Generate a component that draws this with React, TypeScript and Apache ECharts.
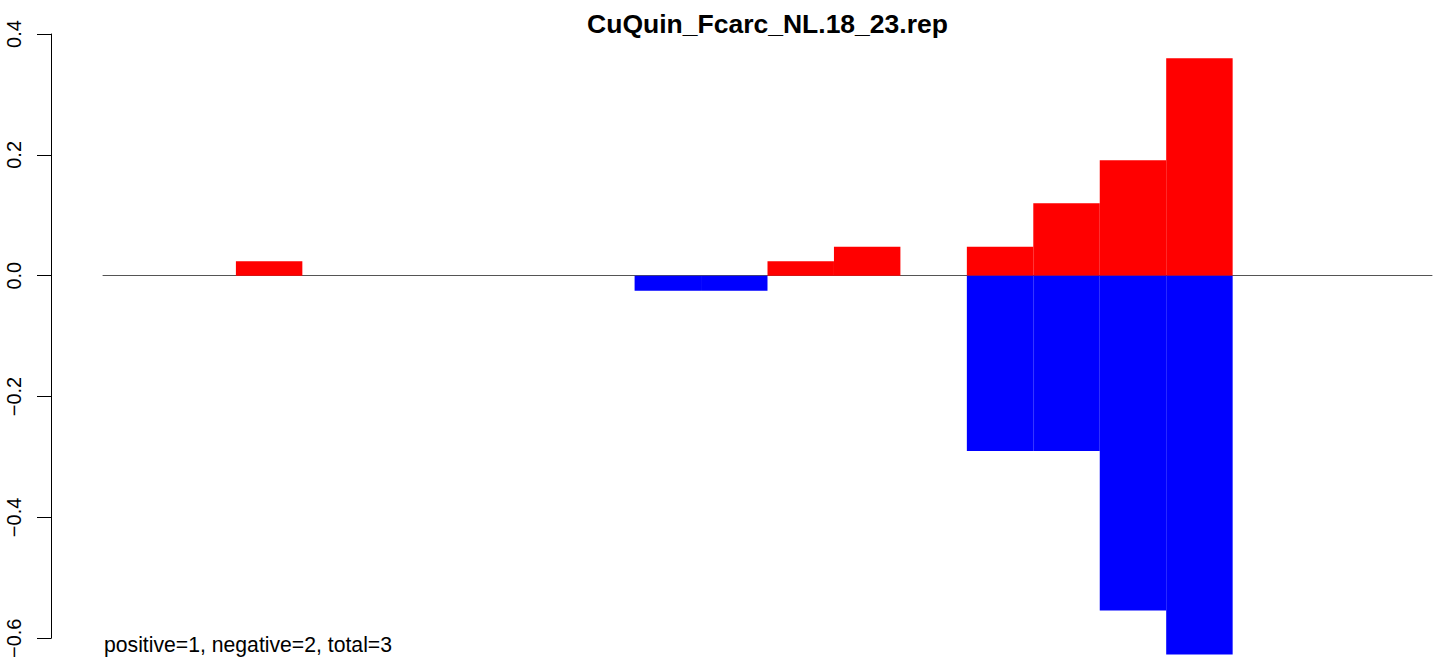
import React, { useEffect, useRef } from "react";
import * as echarts from "echarts";

const categories = [
  "1", "2", "3", "4", "5", "6", "7", "8", "9", "10",
  "11", "12", "13", "14", "15", "16", "17", "18", "19", "20",
];
const positiveValues = [
  null, null, 0.024, null, null, null, null, null, null, null,
  0.024, 0.048, null, 0.048, 0.12, 0.191, 0.36, null, null, null,
];
const negativeValues = [
  null, null, null, null, null, null, null, null, -0.025, -0.025,
  null, null, null, -0.29, -0.29, -0.554, -0.627, null, null, null,
];
const yTicks = [-0.6, -0.4, -0.2, 0, 0.2, 0.4];
const titleText = "CuQuin_Fcarc_NL.18_23.rep";
const noteText = "positive=1, negative=2, total=3";

const FONT = "Liberation Sans, Arial, Helvetica, sans-serif";

export default function App() {
  const ref = useRef<HTMLDivElement>(null);
  useEffect(() => {
    document.body.style.margin = "0";
    const chart = echarts.init(ref.current!, null, { renderer: "svg" });
    chart.setOption({
      animation: false,
      backgroundColor: "#ffffff",
      title: {
        text: titleText,
        left: 762.5,
        top: 5,
        textAlign: "center",
        textStyle: { fontFamily: FONT, fontSize: 26.5, fontWeight: "bold", color: "#000" },
      },
      grid: { left: 103, top: 34, width: 1329, height: 605, containLabel: false },
      xAxis: {
        type: "category",
        data: categories,
        axisLine: { show: true, onZero: true, lineStyle: { color: "#555", width: 1 } },
        axisTick: { show: false },
        axisLabel: { show: false },
        splitLine: { show: false },
      },
      yAxis: {
        type: "value",
        min: yTicks[0],
        max: yTicks[yTicks.length - 1],
        interval: 0.2,
        offset: 52,
        axisLine: { show: true, lineStyle: { color: "#000", width: 1 } },
        axisTick: { show: true, length: 14, lineStyle: { color: "#000", width: 1 } },
        axisLabel: {
          rotate: 90,
          margin: 27,
          fontFamily: FONT,
          fontSize: 20,
          color: "#000",
          formatter: (v: number) => v.toFixed(1).replace("-", "\u2212"),
        },
        splitLine: { show: false },
      },
      series: [
        {
          name: "positive",
          type: "bar",
          data: positiveValues,
          barGap: "-100%",
          barCategoryGap: "0%",
          clip: false,
          itemStyle: { color: "#ff0000", borderColor: "#ff0000", borderWidth: 1.6 },
        },
        {
          name: "negative",
          type: "bar",
          data: negativeValues,
          barGap: "-100%",
          barCategoryGap: "0%",
          clip: false,
          itemStyle: { color: "#0000ff", borderColor: "#0000ff", borderWidth: 1.6 },
        },
      ],
      graphic: [
        {
          type: "text",
          left: 104,
          top: 634,
          style: { text: noteText, font: `21.2px ${FONT}`, fill: "#000" },
        },
      ],
    });
    return () => chart.dispose();
  }, []);
  return (
    <div
      ref={ref}
      style={{ position: "fixed", left: 0, top: 0, width: 1439, height: 661 }}
    />
  );
}
